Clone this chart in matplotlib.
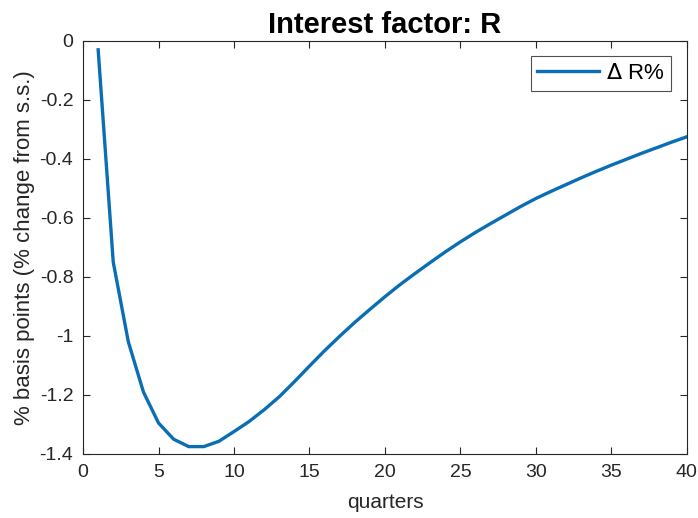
import numpy as np
import matplotlib.pyplot as plt

plt.rcParams['font.family'] = ['Liberation Sans', 'DejaVu Sans']

# impulse response of the interest factor, quarters 1..40
quarters = np.arange(1, 41)
dR = [-0.03, -0.75, -1.02, -1.19, -1.295, -1.35, -1.375, -1.375, -1.357, -1.324,
      -1.29, -1.25, -1.206, -1.155, -1.102, -1.05, -1.001, -0.954, -0.910, -0.867,
      -0.826, -0.788, -0.751, -0.715, -0.681, -0.649, -0.619, -0.590, -0.561, -0.534,
      -0.510, -0.487, -0.464, -0.442, -0.421, -0.401, -0.381, -0.362, -0.343, -0.325]

xticks = [0, 5, 10, 15, 20, 25, 30, 35, 40]
yticks = [-1.4, -1.2, -1.0, -0.8, -0.6, -0.4, -0.2, 0.0]
ytick_labels = ['-1.4', '-1.2', '-1', '-0.8', '-0.6', '-0.4', '-0.2', '0']

fig = plt.figure(figsize=(6.98, 5.18), dpi=100)
ax = fig.add_axes([0.119, 0.1236, 0.865, 0.7974])

ax.plot(quarters, dR, color='#0A6EB4', linewidth=2.4, label=r'$\Delta$ R%')

ax.set_xlim(0, 40)
ax.set_ylim(-1.4, 0)
ax.set_xticks(xticks)
ax.set_yticks(yticks)
ax.set_yticklabels(ytick_labels)
ax.tick_params(direction='in', top=True, right=True, length=5, width=0.8,
               labelsize=14, colors='#262626', pad=7)
for s in ax.spines.values():
    s.set_color('#262626')
    s.set_linewidth(0.8)

ax.set_title('Interest factor: R', fontsize=21, fontweight='bold', pad=6)
ax.set_xlabel('quarters', fontsize=15, color='#262626', labelpad=9)
ax.set_ylabel('% basis points (% change from s.s.)', fontsize=16, color='#262626', labelpad=3)

leg = ax.legend(loc='upper right', fontsize=16, frameon=True, fancybox=False,
                edgecolor='#262626', handlelength=2.8, borderpad=0.3,
                handletextpad=0.3, borderaxespad=0.7)
leg.get_frame().set_linewidth(0.8)

fig.savefig('out.png', dpi=100)
